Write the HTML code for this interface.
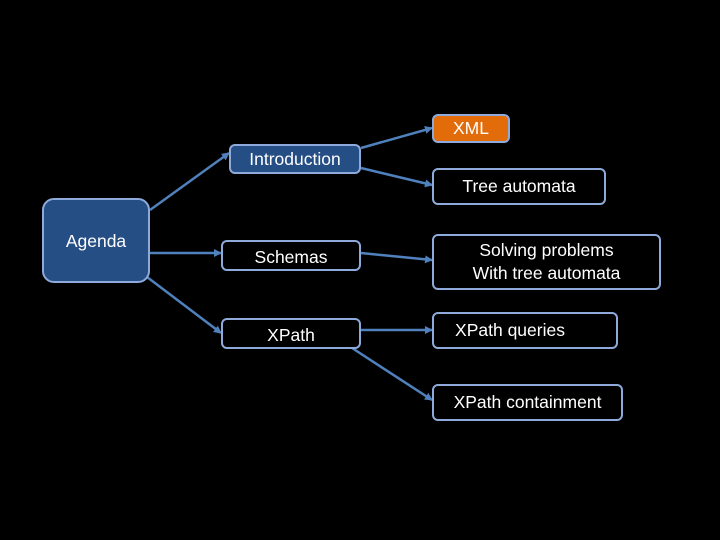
<!DOCTYPE html>
<html><head><style>
body{margin:0;background:#000;width:720px;height:540px;overflow:hidden;position:relative;font-family:"Liberation Sans",sans-serif}
.b{position:absolute;box-sizing:border-box;border:2.5px solid #8eaadb;border-radius:6px;color:#fff;font-size:17.5px;text-align:center;display:flex;align-items:center;justify-content:center;line-height:23px;white-space:nowrap}
svg{position:absolute;left:0;top:0}
</style></head><body>
<svg width="720" height="540">
<defs><marker id="a" markerWidth="8" markerHeight="8" refX="7" refY="4" orient="auto" markerUnits="userSpaceOnUse"><path d="M0,0L8,4L0,8z" fill="#4f81bd"/></marker></defs>
<g stroke="#4f81bd" stroke-width="2.5" marker-end="url(#a)">
<line x1="150" y1="210" x2="229" y2="153"/>
<line x1="150" y1="253" x2="221" y2="253"/>
<line x1="147" y1="277" x2="221" y2="333"/>
<line x1="361" y1="148" x2="432" y2="128"/>
<line x1="361" y1="168" x2="432" y2="185"/>
<line x1="361" y1="253" x2="432" y2="260"/>
<line x1="361" y1="330" x2="432" y2="330"/>
<line x1="352" y1="348" x2="432" y2="400"/>
</g></svg>
<div class="b" style="left:42px;top:198px;width:108px;height:85px;background:#254e85;border-radius:12px;align-items:flex-start;padding-top:30px">Agenda</div>
<div class="b" style="left:229px;top:144px;width:132px;height:30px;background:#254e85">Introduction</div>
<div class="b" style="left:221px;top:240px;width:140px;height:31px;background:#000;padding-top:4px">Schemas</div>
<div class="b" style="left:221px;top:318px;width:140px;height:31px;background:#000;padding-top:3px">XPath</div>
<div class="b" style="left:432px;top:114px;width:78px;height:29px;background:#e36c0a">XML</div>
<div class="b" style="left:432px;top:168px;width:174px;height:37px;background:#000">Tree automata</div>
<div class="b" style="left:432px;top:234px;width:229px;height:56px;background:#000">Solving problems<br>With tree automata</div>
<div class="b" style="left:432px;top:312px;width:186px;height:37px;background:#000;padding-right:30px">XPath queries</div>
<div class="b" style="left:432px;top:384px;width:191px;height:37px;background:#000">XPath containment</div>
</body></html>
